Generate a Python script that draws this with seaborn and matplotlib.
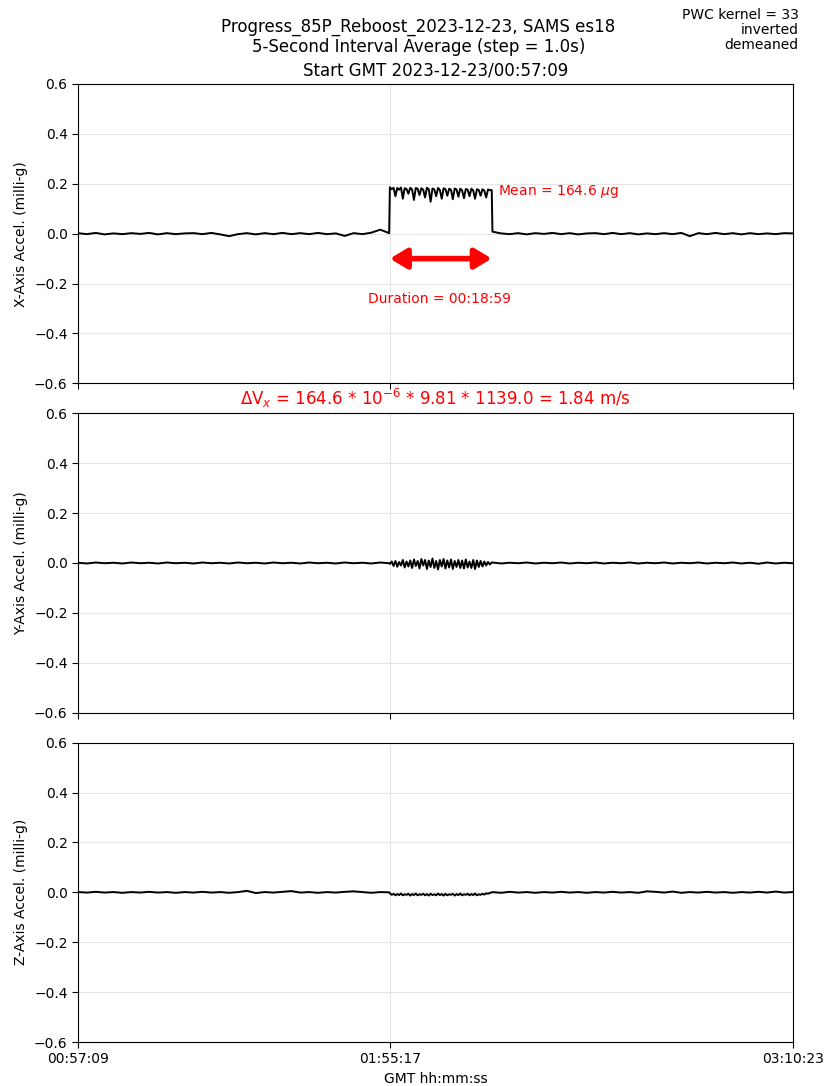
import numpy as np
import pandas as pd
import matplotlib
matplotlib.use('Agg')
import matplotlib.pyplot as plt
import seaborn as sns

# segment boundaries (seconds after 00:57:09)
t_start, t_burn_on, t_burn_off, t_end = 0, 3488, 4627, 7994
tick_secs = [0, 3488, 7994]
tick_labels = ['00:57:09', '01:55:17', '03:10:23']

# X-axis trace (milli-g)
x_pre = [0.002, -0.002, 0.003, -0.003, 0.001, -0.002, 0.002, -0.001, 0.003, -0.003,
         0.002, -0.002, 0.001, 0.002, -0.002, 0.003, -0.003, -0.010, -0.002, 0.002,
         -0.003, 0.002, -0.002, 0.003, -0.002, 0.002, -0.002, 0.003, -0.002, 0.001,
         -0.009, 0.002, -0.002, 0.004, 0.016, 0.002]
x_burn = [0.186, 0.178, 0.184, 0.150, 0.183, 0.176, 0.185, 0.140, 0.182, 0.179,
          0.160, 0.184, 0.177, 0.135, 0.183, 0.180, 0.155, 0.182, 0.176, 0.145,
          0.184, 0.178, 0.128, 0.181, 0.177, 0.150, 0.183, 0.175, 0.140, 0.182,
          0.178, 0.152, 0.180, 0.176, 0.138, 0.181, 0.177, 0.148, 0.180, 0.174,
          0.142, 0.179, 0.176, 0.150, 0.180, 0.173, 0.140, 0.178, 0.175, 0.152,
          0.178, 0.172, 0.145, 0.177, 0.174, 0.175]
x_post = [0.008, 0.001, -0.002, 0.002, -0.003, 0.002, -0.001, 0.003, -0.002, 0.002,
          -0.003, 0.001, 0.002, -0.002, 0.003, -0.002, 0.002, -0.003, 0.001, -0.002,
          0.002, -0.002, 0.003, -0.010, 0.002, -0.002, 0.003, -0.002, 0.002, -0.003,
          0.002, -0.002, 0.001, -0.002, 0.002, 0.001]

# Y-axis trace
y_pre = [0.001, -0.002, 0.002, -0.001, 0.001, -0.002, 0.002, -0.001, 0.001, -0.002,
         0.002, -0.001, 0.001, -0.002, 0.002, -0.001, 0.001, -0.002, 0.002, -0.001,
         0.001, -0.002, 0.002, -0.001, 0.001, -0.002, 0.002, -0.001, 0.001, -0.002,
         0.002, -0.001, 0.001, -0.002, 0.002, -0.001]
y_burn = [-0.004, 0.006, -0.012, 0.008, -0.015, 0.004, -0.010, 0.012, -0.018, 0.006,
          -0.014, 0.010, -0.020, 0.014, -0.012, 0.008, -0.022, 0.016, -0.010, 0.012,
          -0.024, 0.010, -0.016, 0.018, -0.020, 0.008, -0.026, 0.012, -0.014, 0.016,
          -0.022, 0.010, -0.018, 0.014, -0.024, 0.008, -0.016, 0.012, -0.020, 0.010,
          -0.022, 0.014, -0.018, 0.006, -0.020, 0.012, -0.024, 0.010, -0.016, 0.008,
          -0.014, 0.006, -0.010, 0.004, -0.006, 0.002]
y_post = [0.002, -0.002, 0.001, -0.001, 0.002, -0.002, 0.001, -0.001, 0.002, -0.002,
          0.001, -0.001, 0.002, -0.002, 0.001, -0.001, 0.002, -0.002, 0.001, -0.001,
          0.002, -0.002, 0.001, -0.001, 0.002, -0.002, 0.001, -0.001, 0.002, -0.002,
          0.001, -0.003, 0.002, -0.002, 0.001, -0.001]

# Z-axis trace
z_pre = [0.001, -0.001, 0.002, -0.001, 0.001, -0.002, 0.001, -0.001, 0.002, -0.001,
         0.001, -0.002, 0.001, -0.001, 0.002, -0.001, 0.001, -0.002, 0.001, 0.006,
         -0.003, 0.001, -0.001, 0.002, 0.005, -0.001, 0.001, -0.002, 0.001, -0.001,
         0.002, 0.004, 0.001, -0.002, 0.001, 0.000]
z_burn = [-0.004, -0.010, -0.006, -0.012, -0.007, -0.011, -0.005, -0.012, -0.008, -0.010,
          -0.006, -0.013, -0.007, -0.011, -0.005, -0.012, -0.008, -0.010, -0.006, -0.012,
          -0.007, -0.013, -0.006, -0.011, -0.008, -0.012, -0.005, -0.011, -0.007, -0.013,
          -0.006, -0.012, -0.008, -0.010, -0.006, -0.013, -0.007, -0.011, -0.005, -0.012,
          -0.008, -0.010, -0.006, -0.012, -0.007, -0.011, -0.005, -0.012, -0.008, -0.010,
          -0.006, -0.009, -0.004, -0.006, -0.002, -0.001]
z_post = [0.001, -0.002, 0.002, -0.001, 0.001, -0.002, 0.001, -0.001, 0.002, -0.001,
          0.001, -0.002, 0.001, -0.001, 0.002, -0.001, 0.001, -0.002, 0.004, 0.002,
          -0.001, 0.003, -0.002, 0.001, -0.001, 0.002, -0.001, 0.001, -0.002, 0.001,
          -0.001, 0.002, -0.001, 0.003, -0.001, 0.001]

mean_ug = 164.6
duration_label = 'Duration = 00:18:59'


def build(pre, burn, post):
    t = np.concatenate([np.linspace(t_start, t_burn_on - 8, len(pre)),
                        np.linspace(t_burn_on, t_burn_off, len(burn)),
                        np.linspace(t_burn_off + 8, t_end, len(post))])
    return pd.DataFrame({'t': t, 'g': np.array(pre + burn + post)})


df_x = build(x_pre, x_burn, x_post)
df_y = build(y_pre, y_burn, y_post)
df_z = build(z_pre, z_burn, z_post)

sns.set_style('ticks')
plt.rcParams['font.family'] = ['DejaVu Sans']
plt.rcParams.update({'text.color': 'black', 'axes.labelcolor': 'black',
                     'xtick.color': 'black', 'ytick.color': 'black'})

fig, axes = plt.subplots(3, 1, figsize=(8.25, 10.86), dpi=100, sharex=True)
plt.subplots_adjust(left=0.0945, right=0.961, top=0.9227, bottom=0.0405, hspace=0.1)

labels = ['X-Axis Accel. (milli-g)', 'Y-Axis Accel. (milli-g)', 'Z-Axis Accel. (milli-g)']
for ax, df, lab in zip(axes, [df_x, df_y, df_z], labels):
    sns.lineplot(data=df, x='t', y='g', ax=ax, color='black', lw=1.4, estimator=None)
    ax.set_xlim(t_start, t_end)
    ax.set_ylim(-0.6, 0.6)
    ax.set_yticks(np.arange(-0.6, 0.61, 0.2))
    ax.set_ylabel(lab, fontsize=10)
    ax.set_xlabel('')
    ax.grid(True, color='#e5e5e5', lw=0.8)
    ax.tick_params(labelsize=10, direction='out', length=4, color='black')
    for s in ax.spines.values():
        s.set_visible(True)
        s.set_color('black')
        s.set_linewidth(0.8)

axes[2].set_xticks(tick_secs)
axes[2].set_xticklabels(tick_labels)
axes[2].set_xlabel('GMT hh:mm:ss', fontsize=10)

ax1 = axes[0]
ax1.set_title('Start GMT 2023-12-23/00:57:09', fontsize=12, pad=6)
ax1.annotate('', xy=(t_burn_off, -0.1), xytext=(t_burn_on, -0.1),
             arrowprops=dict(arrowstyle='<|-|>,head_length=1.0,head_width=0.6',
                             color='red', lw=4, shrinkA=0, shrinkB=0))
ax1.text((t_burn_on + t_burn_off) / 2 - 15, -0.26, duration_label, color='red',
         ha='center', va='center', fontsize=10)
ax1.text(t_burn_off + 70, 0.17, f'Mean = {mean_ug} $\\mu$g', color='red',
         ha='left', va='center', fontsize=10)

dur_s = t_burn_off - t_burn_on
dv = mean_ug * 1e-6 * 9.81 * dur_s
axes[1].set_title(f'$\\Delta$V$_x$ = {mean_ug} * 10$^{{-6}}$ * 9.81 * {dur_s:.1f} = {dv:.2f} m/s',
                  color='red', fontsize=12, pad=6)

fig.text(0.507, 0.984, 'Progress_85P_Reboost_2023-12-23, SAMS es18\n5-Second Interval Average (step = 1.0s)',
         ha='center', va='top', fontsize=12, linespacing=1.15)
fig.text(0.968, 0.993, 'PWC kernel = 33\ninverted\ndemeaned', ha='right', va='top',
         fontsize=10, linespacing=1.1)

plt.savefig('out.png', dpi=100)
